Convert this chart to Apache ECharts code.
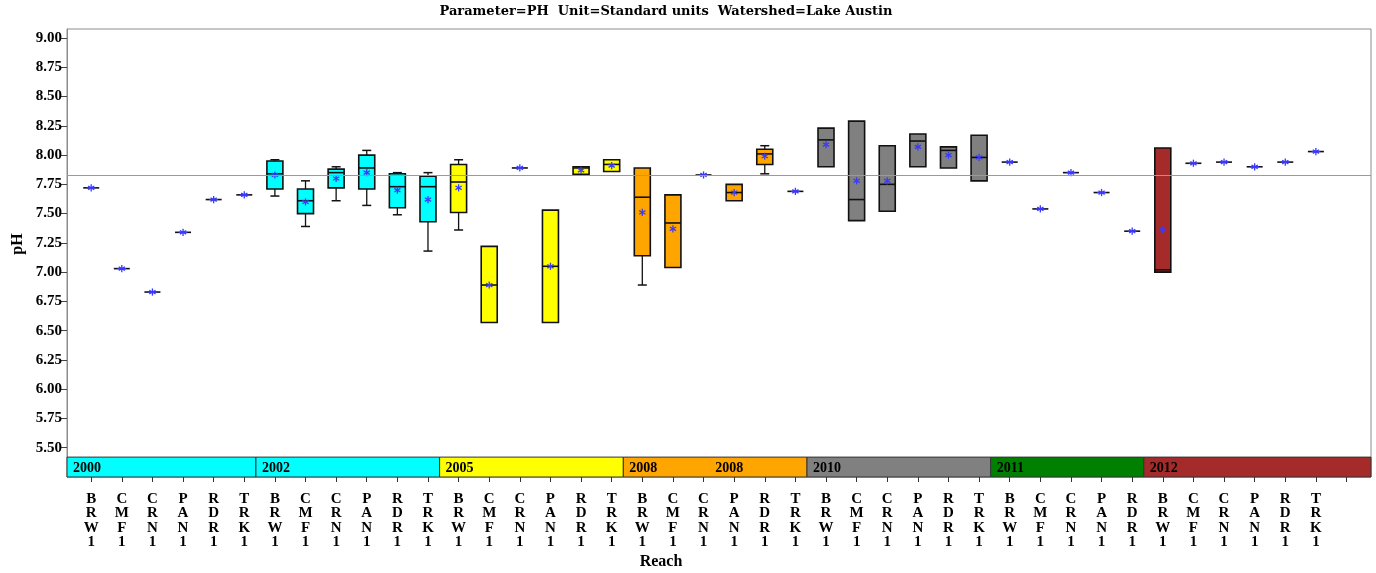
<!DOCTYPE html>
<html><head><meta charset="utf-8">
<script src="https://cdn.jsdelivr.net/npm/echarts@6/dist/echarts.min.js"></script>
<style>html,body{margin:0;padding:0;background:#fff}#c{width:1376px;height:573px}</style>
</head><body><div id="c"></div>
<script>
// ---------- data ----------
const years = ['2000','2002','2005','2008','2010','2011','2012'];
const yearColors = ['#00FFFF','#00FFFF','#FFFF00','#FFA500','#808080','#008000','#A52A2A'];
const reaches = [
  'BRW1','CMF1','CRN1','PAN1','RDR1','TRK1',
  'BRW1','CMF1','CRN1','PAN1','RDR1','TRK1',
  'BRW1','CMF1','CRN1','PAN1','RDR1','TRK1',
  'BRW1','CMF1','CRN1','PAN1','RDR1','TRK1',
  'BRW1','CMF1','CRN1','PAN1','RDR1','TRK1',
  'BRW1','CMF1','CRN1','PAN1','RDR1',
  'BRW1','CMF1','CRN1','PAN1','RDR1','TRK1',
  ''
];
const yearIdx = [
  0,0,0,0,0,0, 1,1,1,1,1,1, 2,2,2,2,2,2, 3,3,3,3,3,3,
  4,4,4,4,4,4, 5,5,5,5,5, 6,6,6,6,6,6
];
const wMin = [7.72,7.03,6.83,7.34,7.62,7.66, 7.65,7.39,7.61,7.57,7.49,7.18, 7.36,6.57,7.89,6.57,7.835,7.86,
  6.89,7.04,7.83,7.61,7.84,7.69, 7.90,7.44,7.52,7.90,7.89,7.78, 7.94,7.54,7.85,7.68,7.35, 7.00,7.93,7.94,7.90,7.94,8.03];
const q1   = [7.72,7.03,6.83,7.34,7.62,7.66, 7.71,7.50,7.72,7.71,7.55,7.43, 7.51,6.57,7.89,6.57,7.835,7.86,
  7.14,7.04,7.83,7.61,7.92,7.69, 7.90,7.44,7.52,7.90,7.89,7.78, 7.94,7.54,7.85,7.68,7.35, 7.00,7.93,7.94,7.90,7.94,8.03];
const med  = [7.72,7.03,6.83,7.34,7.62,7.66, 7.84,7.61,7.85,7.89,7.73,7.73, 7.77,6.89,7.89,7.05,7.89,7.92,
  7.64,7.42,7.83,7.68,8.01,7.69, 8.13,7.62,7.75,8.12,8.04,7.98, 7.94,7.54,7.85,7.68,7.35, 7.02,7.93,7.94,7.90,7.94,8.03];
const q3   = [7.72,7.03,6.83,7.34,7.62,7.66, 7.95,7.71,7.88,8.00,7.84,7.82, 7.92,7.22,7.89,7.53,7.90,7.96,
  7.89,7.66,7.83,7.75,8.05,7.69, 8.23,8.29,8.08,8.18,8.07,8.17, 7.94,7.54,7.85,7.68,7.35, 8.06,7.93,7.94,7.90,7.94,8.03];
const wMax = [7.72,7.03,6.83,7.34,7.62,7.66, 7.96,7.78,7.90,8.04,7.85,7.85, 7.96,7.22,7.89,7.53,7.90,7.96,
  7.89,7.66,7.83,7.75,8.08,7.69, 8.23,8.29,8.08,8.18,8.07,8.17, 7.94,7.54,7.85,7.68,7.35, 8.06,7.93,7.94,7.90,7.94,8.03];
const mean = [7.72,7.03,6.83,7.34,7.62,7.66, 7.83,7.60,7.80,7.85,7.70,7.62, 7.72,6.89,7.89,7.05,7.87,7.91,
  7.51,7.37,7.83,7.68,7.99,7.69, 8.09,7.78,7.78,8.07,8.00,7.98, 7.94,7.54,7.85,7.68,7.35, 7.36,7.93,7.94,7.90,7.94,8.03];
const overallMean = 7.83;
const yTicks = [5.50,5.75,6.00,6.25,6.50,6.75,7.00,7.25,7.50,7.75,8.00,8.25,8.50,8.75,9.00];

// ---------- layout constants ----------
const FRAME = {left: 67, top: 29, width: 1304, height: 448};
const X_MIN = -0.79, X_MAX = 41.8;
const UNIT = FRAME.width / (X_MAX - X_MIN);
const Y_MIN = 5.25, Y_MAX = 9.077;
const BAND_TOP = 5.42;
const EDGE = 0.38;
const SERIF = '"Liberation Serif", "Times New Roman", serif';

const boxData = reaches.slice(0, yearIdx.length).map((r, i) =>
  [i, wMin[i], q1[i], med[i], q3[i], wMax[i], mean[i], yearIdx[i]]);

const groups = years.map((y, g) => {
  const idx = yearIdx.map((v, i) => v === g ? i : -1).filter(i => i >= 0);
  return {first: idx[0], last: idx[idx.length - 1]};
});
const bandData = groups.map((gr, k) => [
  k === 0 ? X_MIN : groups[k - 1].last + EDGE,
  k === groups.length - 1 ? X_MAX : gr.last + EDGE,
  k
]);

const chart = echarts.init(document.getElementById('c'), null, {renderer: 'canvas'});

function L(x1, y1, x2, y2, c, w) {
  return {type: 'line', shape: {x1, y1, x2, y2}, style: {stroke: c, lineWidth: w}};
}

function renderBox(params, api) {
  const x = api.value(0);
  const mn = api.value(1), a = api.value(2), m = api.value(3), b = api.value(4), mx = api.value(5), mu = api.value(6);
  const color = yearColors[api.value(7)];
  const cx = api.coord([x, m])[0];
  const y = v => api.coord([x, v])[1];
  const hw = 8, cw = 4.5;
  const ch = [];
  if (mx > b) { ch.push(L(cx, y(mx), cx, y(b), '#111', 1.3)); ch.push(L(cx - cw, y(mx), cx + cw, y(mx), '#111', 1.5)); }
  if (mn < a) { ch.push(L(cx, y(a), cx, y(mn), '#111', 1.3)); ch.push(L(cx - cw, y(mn), cx + cw, y(mn), '#111', 1.5)); }
  if (b > a) {
    ch.push({type: 'rect', shape: {x: cx - hw, y: y(b), width: 2 * hw, height: y(a) - y(b)},
      style: {fill: color, stroke: '#111', lineWidth: 1.6}});
  }
  ch.push(L(cx - hw, y(m), cx + hw, y(m), '#111', 1.6));
  const my = y(mu), s = 3.6, blue = '#3a3aff';
  ch.push(L(cx, my - s, cx, my + s, blue, 1.3));
  ch.push(L(cx - s * 0.87, my - s * 0.5, cx + s * 0.87, my + s * 0.5, blue, 1.3));
  ch.push(L(cx - s * 0.87, my + s * 0.5, cx + s * 0.87, my - s * 0.5, blue, 1.3));
  if (b === a) ch.push(L(cx - s * 1.2, my, cx + s * 1.2, my, blue, 1.3));
  return {type: 'group', children: ch};
}

function renderBand(params, api) {
  const x0 = api.value(0), x1 = api.value(1), k = api.value(2);
  const p0 = api.coord([x0, BAND_TOP]), p1 = api.coord([x1, Y_MIN]);
  const ch = [{type: 'rect', shape: {x: p0[0], y: p0[1], width: p1[0] - p0[0], height: p1[1] - p0[1]},
    style: {fill: yearColors[k], stroke: '#333', lineWidth: 1}}];
  const ty = (p0[1] + p1[1]) / 2 + 1;
  ch.push({type: 'text', style: {text: years[k], x: p0[0] + 6, y: ty, font: 'bold 14px ' + SERIF,
    fill: '#000', verticalAlign: 'middle', align: 'left'}});
  if (years[k] === '2008') {
    ch.push({type: 'text', style: {text: years[k], x: (p0[0] + p1[0]) / 2, y: ty, font: 'bold 14px ' + SERIF,
      fill: '#000', verticalAlign: 'middle', align: 'left'}});
  }
  return {type: 'group', children: ch};
}

const option = {
  animation: false,
  backgroundColor: '#fff',
  grid: [
    {left: FRAME.left, top: FRAME.top, width: FRAME.width, height: FRAME.height,
      show: true, borderColor: '#8c8c8c', borderWidth: 1, backgroundColor: 'transparent', containLabel: false},
    {left: FRAME.left + (0 - X_MIN - 0.5) * UNIT, top: FRAME.top, width: reaches.length * UNIT, height: FRAME.height,
      show: false, containLabel: false}
  ],
  xAxis: [
    {type: 'value', gridIndex: 0, min: X_MIN, max: X_MAX, show: false, axisLine: {onZero: false}},
    {type: 'category', gridIndex: 1, data: reaches.map((r, i) => String(i)), boundaryGap: true,
      axisLine: {show: false, onZero: false},
      axisTick: {show: true, alignWithLabel: true, length: 5, lineStyle: {color: '#333', width: 1}},
      axisLabel: {interval: 0, margin: 15, color: '#000', fontFamily: SERIF, fontWeight: 'bold', fontSize: 15,
        lineHeight: 14.4, formatter: (v, i) => reaches[i].split('').join('\n')},
      splitLine: {show: false}}
  ],
  yAxis: [
    {type: 'value', gridIndex: 0, min: Y_MIN, max: Y_MAX, position: 'left',
      axisLine: {show: true, onZero: false, lineStyle: {color: '#8c8c8c', width: 1}},
      axisTick: {show: true, length: 6, lineStyle: {color: '#444'}, customValues: yTicks},
      axisLabel: {color: '#000', fontFamily: SERIF, fontWeight: 'bold', fontSize: 15, margin: 5,
        customValues: yTicks, formatter: v => Number(v).toFixed(2)},
      splitLine: {show: false}},
    {type: 'value', gridIndex: 1, min: Y_MIN, max: Y_MAX, show: false, splitLine: {show: false},
      axisLine: {onZero: false}}
  ],
  graphic: [
    {type: 'text', x: 666, y: 12, style: {text: 'Parameter=PH  Unit=Standard units  Watershed=Lake Austin',
      font: 'bold 13px "DejaVu Serif", serif', fill: '#000', align: 'center', verticalAlign: 'middle'}},
    {type: 'text', x: 661, y: 562, style: {text: 'Reach', font: 'bold 16px ' + SERIF, fill: '#000',
      align: 'center', verticalAlign: 'middle'}},
    {type: 'text', x: 18, y: 244, rotation: Math.PI / 2, style: {text: 'pH', font: 'bold 16px ' + SERIF,
      fill: '#000', align: 'center', verticalAlign: 'middle'}}
  ],
  series: [
    {type: 'custom', name: 'band', xAxisIndex: 0, yAxisIndex: 0, renderItem: renderBand, data: bandData,
      clip: false, silent: true, z: 2,
      encode: {x: [0, 1], y: []},
      markLine: {silent: true, symbol: 'none', label: {show: false},
        lineStyle: {color: '#9a9a9a', width: 1, type: 'solid'}, data: [{yAxis: overallMean}]}},
    {type: 'custom', name: 'pH', xAxisIndex: 1, yAxisIndex: 1, renderItem: renderBox, data: boxData,
      clip: false, silent: true, z: 4,
      encode: {x: 0, y: [1, 2, 3, 4, 5, 6]}}
  ]
};
chart.setOption(option);
</script></body></html>
